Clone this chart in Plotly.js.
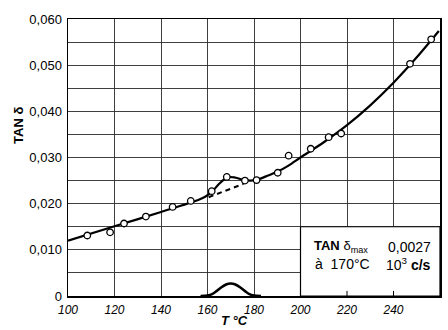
<!DOCTYPE html>
<html>
<head>
<meta charset="utf-8">
<script src="https://cdn.plot.ly/plotly-3.0.1.min.js"></script>
<style>html,body{margin:0;padding:0;background:#fff;}#chart{width:448px;height:330px;}</style>
</head>
<body>
<div id="chart"></div>
<script>
// Measured points (open circles)
const pointT = [108.3, 118.1, 124.1, 133.5, 145.0, 152.8, 161.8, 168.3, 176.1, 181.1, 190.2, 194.9, 204.4, 212.1, 217.5, 247.1, 256.2];
const pointV = [0.0131, 0.0138, 0.0157, 0.0172, 0.0193, 0.0206, 0.0227, 0.0258, 0.0250, 0.0251, 0.0267, 0.0304, 0.0319, 0.0344, 0.0352, 0.0503, 0.0556];

// Fitted solid curve
const curveT = [100, 120, 140, 156, 159, 162, 165, 168.5, 171.5, 175, 178.5, 182, 186, 190, 195, 200, 210, 220, 230, 240, 250, 259.5];
const curveV = [0.0120, 0.0151, 0.0182, 0.0208, 0.0215, 0.0226, 0.0243, 0.0257, 0.0257, 0.0252, 0.0250, 0.0253, 0.0261, 0.0269, 0.0283, 0.0300, 0.0333, 0.0370, 0.0413, 0.0462, 0.0517, 0.0574];

// Dashed baseline under the loss peak
const dashT = [160.5, 175.5];
const dashV = [0.0214, 0.0243];

// Resolved peak drawn on the baseline
const peakT = [157, 160, 162, 164, 166, 168, 170, 172, 174, 176, 178, 180, 183];
const peakV = [0, 0.0001, 0.0004, 0.0011, 0.0019, 0.0025, 0.0027, 0.0025, 0.0019, 0.0011, 0.0004, 0.0001, 0];

// Ticks
const xTicks = [100, 120, 140, 160, 180, 200, 220, 240, 260];
const yTickVals = [0, 0.010, 0.020, 0.030, 0.040, 0.050, 0.060];
const yTickText = ["0", "0,010", "0,020", "0,030", "0,040", "0,050", "0,060"];
const yMinorVals = [0.005, 0.015, 0.025, 0.035, 0.045, 0.055];

const boxX = [200, 260];
const boxY = [0, 0.015];

const traces = [
  {x: curveT, y: curveV, mode: 'lines', line: {color: '#000', width: 2.2, shape: 'spline', smoothing: 0.8}, hoverinfo: 'skip'},
  {x: dashT, y: dashV, mode: 'lines', line: {color: '#000', width: 2, dash: '5px,4px'}, hoverinfo: 'skip'},
  {x: peakT, y: peakV, mode: 'lines', line: {color: '#000', width: 2.6, shape: 'spline', smoothing: 0.8}, hoverinfo: 'skip', cliponaxis: false},
  {x: pointT, y: pointV, mode: 'markers', marker: {symbol: 'circle', size: 6.5, color: '#fff', line: {color: '#000', width: 1.3}}}
];

const shapes = [
  {type: 'rect', xref: 'x', yref: 'y', x0: boxX[0], x1: boxX[1], y0: boxY[0], y1: boxY[1], fillcolor: '#fff', line: {color: '#000', width: 1.2}, layer: 'above'}
];
xTicks.filter(t => t > boxX[0] && t < boxX[1]).forEach(t => {
  shapes.push({type: 'line', xref: 'x', yref: 'y', x0: t, x1: t, y0: 0, y1: 0.0011, line: {color: '#000', width: 1}, layer: 'above'});
});

const font = 'Liberation Sans, Arial, sans-serif';
const layout = {
  width: 448, height: 330,
  margin: {l: 68, r: 8, t: 19, b: 34},
  paper_bgcolor: '#fff', plot_bgcolor: '#fff',
  showlegend: false,
  xaxis: {
    range: [100, 260], tickvals: xTicks, ticktext: xTicks.map(String),
    showgrid: true, gridcolor: '#2a2a2a', gridwidth: 0.9,
    showline: true, mirror: true, linecolor: '#000', linewidth: 1.5,
    zeroline: false, ticks: '', ticklabelstandoff: 2,
    tickfont: {family: font, size: 12, color: '#000', style: 'italic'}
  },
  yaxis: {
    range: [0, 0.06], tickvals: yTickVals, ticktext: yTickText,
    showgrid: true, gridcolor: '#2a2a2a', gridwidth: 0.9,
    minor: {tickvals: yMinorVals, showgrid: true, gridcolor: '#2a2a2a', gridwidth: 0.9, ticks: ''},
    showline: true, mirror: true, linecolor: '#000', linewidth: 1.5,
    zeroline: false, ticks: '', ticklabelstandoff: 2,
    tickfont: {family: font, size: 13, color: '#000'}
  },
  shapes: shapes,
  annotations: [
    {xref: 'paper', yref: 'paper', x: 0.4476, y: -0.087, text: '<b><i>T °C</i></b>', showarrow: false, xanchor: 'center', yanchor: 'middle', font: {family: font, size: 13, color: '#000'}},
    {xref: 'paper', yref: 'paper', x: -0.1317, y: 0.614, text: '<b>TAN δ</b>', textangle: -90, showarrow: false, xanchor: 'center', yanchor: 'middle', font: {family: font, size: 13, color: '#000'}},
    {xref: 'paper', yref: 'paper', x: 0.655, y: 0.177, text: '<b>TAN</b> δ<sub>max</sub>', showarrow: false, xanchor: 'left', yanchor: 'middle', font: {family: font, size: 13, color: '#000'}},
    {xref: 'paper', yref: 'paper', x: 0.981, y: 0.177, text: '0,0027', showarrow: false, xanchor: 'right', yanchor: 'middle', font: {family: font, size: 14, color: '#000'}},
    {xref: 'paper', yref: 'paper', x: 0.658, y: 0.117, text: 'à  170°C', showarrow: false, xanchor: 'left', yanchor: 'middle', font: {family: font, size: 14, color: '#000'}},
    {xref: 'paper', yref: 'paper', x: 0.981, y: 0.117, text: '10<sup>3</sup> <b>c/s</b>', showarrow: false, xanchor: 'right', yanchor: 'middle', font: {family: font, size: 14, color: '#000'}}
  ]
};

Plotly.newPlot('chart', traces, layout, {staticPlot: true, displayModeBar: false});
</script>
</body>
</html>
